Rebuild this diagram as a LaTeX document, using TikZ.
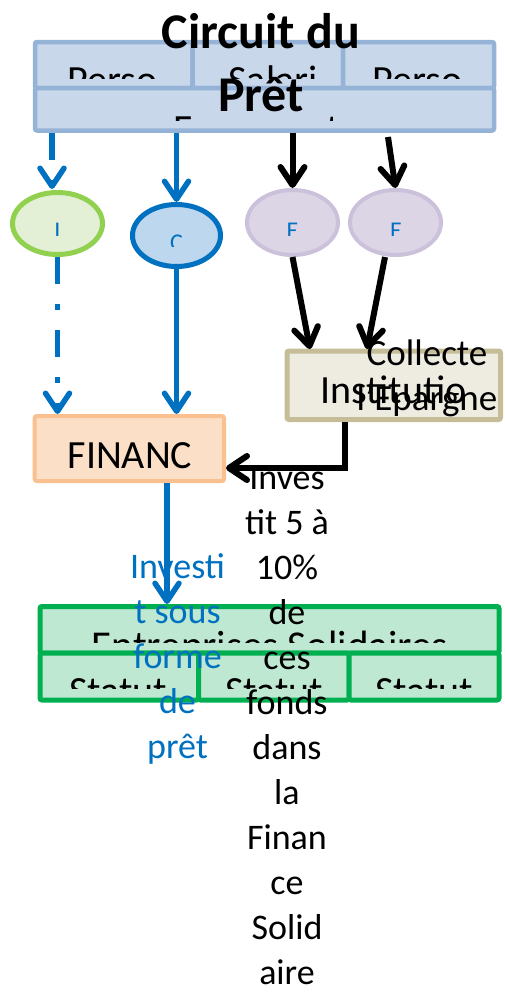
\documentclass[tikz,border=0pt]{standalone}
\usepackage{fontspec}
\setmainfont{Carlito}
\usetikzlibrary{shapes.geometric,arrows.meta}
\definecolor{topfill}{HTML}{C9D7EB}
\definecolor{topdraw}{HTML}{95B3D7}
\definecolor{grfill}{HTML}{E3F0D5}
\definecolor{grdraw}{HTML}{92D050}
\definecolor{blfill}{HTML}{BDD7EE}
\definecolor{myblue}{HTML}{0070C0}
\definecolor{pufill}{HTML}{DCD5E6}
\definecolor{pudraw}{HTML}{CCC1DA}
\definecolor{infill}{HTML}{EEECE1}
\definecolor{indraw}{HTML}{C4BD97}
\definecolor{fifill}{HTML}{FBDFC7}
\definecolor{fidraw}{HTML}{FAC090}
\definecolor{enfill}{HTML}{BEE8D1}
\definecolor{endraw}{HTML}{00B050}
\begin{document}
\begin{tikzpicture}[x=1pt,y=-1pt,
  cell/.style={rectangle, inner sep=0pt, rounded corners=2pt},
  topcell/.style={cell, fill=topfill, draw=topdraw, line width=4.5pt},
  entcell/.style={cell, fill=enfill, draw=endraw, line width=5pt},
  oval/.style={ellipse, inner sep=0pt},
  f40/.style={font=\fontsize{40}{48}\selectfont},
  f41/.style={font=\fontsize{41}{49}\selectfont},
  f24/.style={font=\fontsize{24}{29}\selectfont, text=myblue},
  barb/.style={-{Straight Barb[length=18pt,width=24pt,round]}},
  bluearrow/.style={draw=myblue, line width=5.5pt, barb},
  blackarrow/.style={draw=black, line width=6pt, barb},
  dasharrow/.style={bluearrow, dash pattern=on 27pt off 20pt on 6pt off 20pt},
  txt/.style={anchor=base, inner sep=0pt}
]
\useasboundingbox (0,0) rectangle (504,997);

% ---- top block ----
\node[topcell, minimum width=157.5pt, minimum height=46pt] (c1) at (113.75,65) {};
\node[topcell, minimum width=150.5pt, minimum height=46pt] (c2) at (267.75,65) {};
\node[topcell, minimum width=151pt, minimum height=46pt] (c3) at (418.5,65) {};
\node[topcell, minimum width=459pt, minimum height=42.5pt] (c4) at (264.5,109.25) {};
\begin{scope}
  \clip (38,44) rectangle (491,78.5);
  \node[txt, f40] (t1) at (112.5,93.3) {Perso};
  \node[txt, f40] (t2) at (273,93.3) {Salari};
  \node[txt, f40] (t3) at (417.5,93.3) {Perso};
\end{scope}
\begin{scope}
  \clip (38,91) rectangle (491,120);
  \node[txt, f40] (t4) at (264.5,142.8) {Epargnants};
\end{scope}
\node[txt, font=\fontsize{50}{63.5}\selectfont\bfseries, align=center] (title) at (261,111.8) {Circuit du\\Prêt};

% ---- ellipses ----
\node[oval, fill=grfill, draw=grdraw, line width=5pt, minimum width=90pt, minimum height=62pt] (e1) at (57.5,223.5) {};
\node[oval, fill=blfill, draw=myblue, line width=5pt, minimum width=88pt, minimum height=62pt] (e2) at (176.5,235.5) {};
\node[oval, fill=pufill, draw=pudraw, line width=4pt, minimum width=91pt, minimum height=65pt] (e3) at (292.5,222.5) {};
\node[oval, fill=pufill, draw=pudraw, line width=4pt, minimum width=91pt, minimum height=65pt] (e4) at (395.5,222.5) {};
\begin{scope}
  \clip (0,200) rectangle (504,235);
  \node[txt, f24] (l1) at (57.5,238.5) {I};
  \node[txt, f24] (l3) at (292.5,238.5) {E};
  \node[txt, f24] (l4) at (396,238.5) {E};
\end{scope}
\begin{scope}
  \clip (120,215) rectangle (230,246);
  \node[txt, f24] (l2) at (176.5,250.5) {C};
\end{scope}

% ---- boxes ----
\node[cell, fill=infill, draw=indraw, line width=5pt, minimum width=213.5pt, minimum height=68.5pt] (inst) at (393.75,385.25) {};
\node[txt, f40] (instt) at (393.5,403) {Institutio};
\node[txt, font=\fontsize{37}{45}\selectfont, align=center] (coll) at (427,410) {Collecte\\l'Epargne};

\node[cell, fill=fifill, draw=fidraw, line width=4pt, minimum width=189.3pt, minimum height=65pt] (fin) at (129.35,448.5) {};
\node[txt, f40] (fint) at (130,468) {FINANC};

\node[entcell, minimum width=459pt, minimum height=46.5pt] (ent) at (269.5,629.75) {};
\node[entcell, minimum width=158.5pt, minimum height=47pt] (s1) at (119.25,676.5) {};
\node[entcell, minimum width=150.5pt, minimum height=47pt] (s2) at (273.75,676.5) {};
\node[entcell, minimum width=150pt, minimum height=47pt] (s3) at (424,676.5) {};
\begin{scope}
  \clip (43,609) rectangle (496,642);
  \node[txt, f41] (entt) at (270,659) {Entreprises Solidaires};
\end{scope}
\begin{scope}
  \clip (43,656) rectangle (496,688);
  \node[txt, f40] (st1) at (118,704) {Statut};
  \node[txt, f40] (st2) at (274,704) {Statut};
  \node[txt, f40] (st3) at (424,704) {Statut};
\end{scope}

% ---- labels ----
\node[txt, font=\fontsize{36}{45}\selectfont, text=myblue, align=center] (lab1) at (177.5,758) {Investi\\t sous\\forme\\de\\prêt};
\node[txt, font=\fontsize{36}{45}\selectfont, align=center] (lab2) at (287,984) {Inves\\tit 5 à\\10\%\\de\\ces\\fonds\\dans\\la\\Finan\\ce\\Solid\\aire};

% ---- connectors ----
\coordinate (a1) at (52,189);
\coordinate (s4) at (388,137);
\coordinate (s5) at (385,257);
\coordinate (i1) at (310,349);
\coordinate (i2) at (367,349);
\coordinate (k) at (345,468);
\draw[dasharrow] (c4.south -| a1) -- (a1);
\draw[bluearrow] (c4.south -| e2.north) -- (e2.north);
\draw[blackarrow] (c4.south -| e3.north) -- (e3.north);
\draw[blackarrow] (s4) -- (e4.north);
\draw[dasharrow] (e1.south) -- (fin.north -| e1.south);
\draw[bluearrow] (e2.south) -- (fin.north -| e2.south);
\draw[blackarrow] (e3.south) -- (i1);
\draw[blackarrow] (s5) -- (i2);
\draw[blackarrow] (inst.south -| k) -- (k) -- (fin.east |- k);
\draw[bluearrow] (fin.south -| 167,0) -- (ent.north -| 167,0);
\end{tikzpicture}
\end{document}
